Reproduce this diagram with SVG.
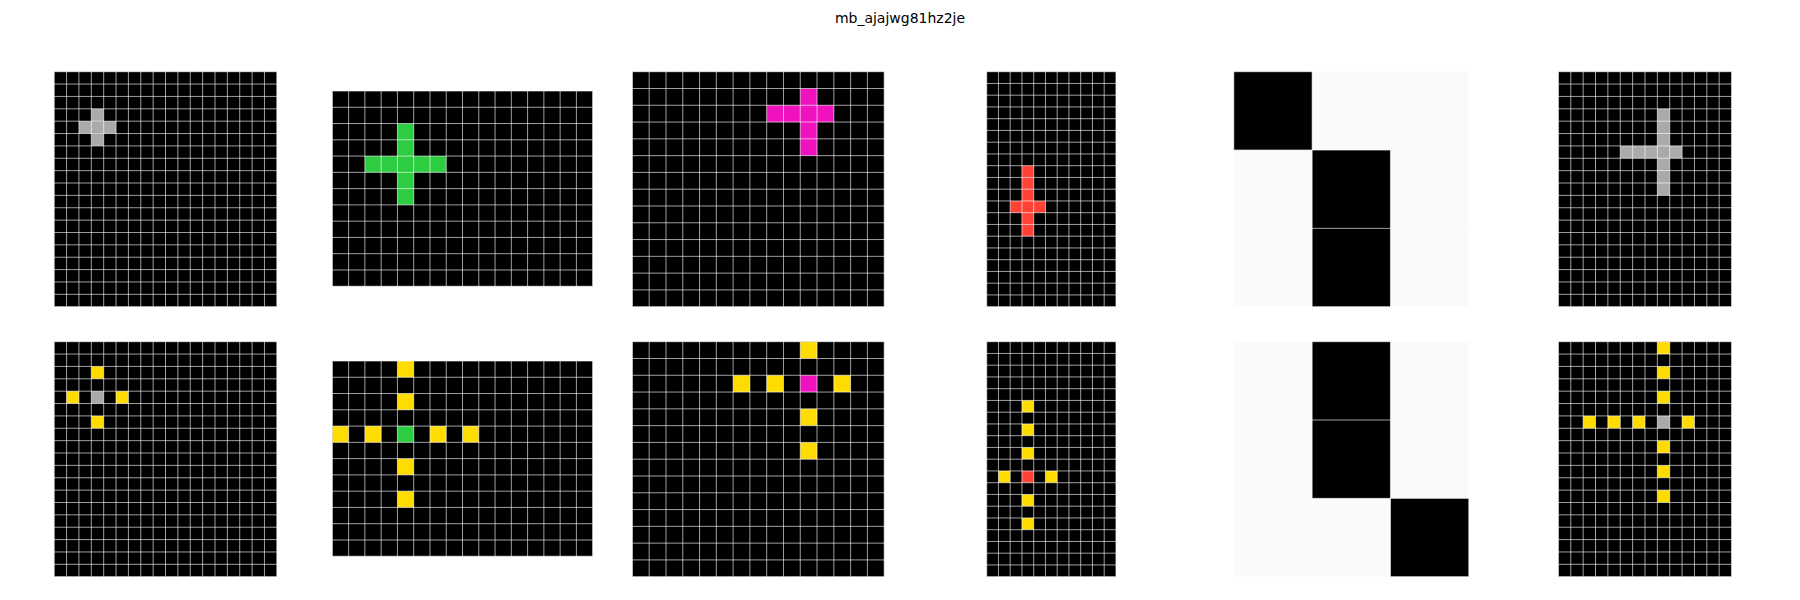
<svg xmlns="http://www.w3.org/2000/svg" width="1800" height="600" viewBox="0 0 1800 600">
<style>
.bg{fill:#000000}
.wbg{fill:#fafafa}
.k{fill:#000000}
.g{fill:#aaaaaa}
.gr{fill:#2ecc40}
.m{fill:#f012be}
.r{fill:#ff4136}
.y{fill:#ffdc00}
.grid{fill:none;stroke:#ffffff;stroke-opacity:0.62;stroke-width:1;vector-effect:non-scaling-stroke}
.title{font-family:"DejaVu Sans",sans-serif;font-size:14px;fill:#000000}
</style>
<rect width="1800" height="600" fill="#ffffff"/>
<text class="title" x="900" y="23" text-anchor="middle">mb_ajajwg81hz2je</text>

<!-- Panel 1 top: 18x19 -->
<g id="p1_top" transform="translate(54.2,71.7) scale(12.368)">
<rect class="bg" width="18" height="19"/>
<rect class="g" x="3" y="3" width="1" height="1"/><rect class="g" x="2" y="4" width="3" height="1"/><rect class="g" x="3" y="5" width="1" height="1"/>
<path class="grid" d="M0 0v19m1-19v19m1-19v19m1-19v19m1-19v19m1-19v19m1-19v19m1-19v19m1-19v19m1-19v19m1-19v19m1-19v19m1-19v19m1-19v19m1-19v19m1-19v19m1-19v19m1-19v19m1-19v19M0 0h18m-18 1h18m-18 1h18m-18 1h18m-18 1h18m-18 1h18m-18 1h18m-18 1h18m-18 1h18m-18 1h18m-18 1h18m-18 1h18m-18 1h18m-18 1h18m-18 1h18m-18 1h18m-18 1h18m-18 1h18m-18 1h18m-18 1h18"/>
</g>
<g id="p1_bottom" transform="translate(54.2,341.7) scale(12.368)">
<rect class="bg" width="18" height="19"/>
<rect class="g" x="3" y="4" width="1" height="1"/>
<rect class="y" x="3" y="2" width="1" height="1"/><rect class="y" x="1" y="4" width="1" height="1"/><rect class="y" x="5" y="4" width="1" height="1"/><rect class="y" x="3" y="6" width="1" height="1"/>
<path class="grid" d="M0 0v19m1-19v19m1-19v19m1-19v19m1-19v19m1-19v19m1-19v19m1-19v19m1-19v19m1-19v19m1-19v19m1-19v19m1-19v19m1-19v19m1-19v19m1-19v19m1-19v19m1-19v19m1-19v19M0 0h18m-18 1h18m-18 1h18m-18 1h18m-18 1h18m-18 1h18m-18 1h18m-18 1h18m-18 1h18m-18 1h18m-18 1h18m-18 1h18m-18 1h18m-18 1h18m-18 1h18m-18 1h18m-18 1h18m-18 1h18m-18 1h18m-18 1h18"/>
</g>

<!-- Panel 2: 16x12 -->
<g id="p2_top" transform="translate(332.35,91) scale(16.27)">
<rect class="bg" width="16" height="12"/>
<rect class="gr" x="4" y="2" width="1" height="5"/><rect class="gr" x="2" y="4" width="5" height="1"/>
<path class="grid" d="M0 0v12m1-12v12m1-12v12m1-12v12m1-12v12m1-12v12m1-12v12m1-12v12m1-12v12m1-12v12m1-12v12m1-12v12m1-12v12m1-12v12m1-12v12m1-12v12m1-12v12M0 0h16m-16 1h16m-16 1h16m-16 1h16m-16 1h16m-16 1h16m-16 1h16m-16 1h16m-16 1h16m-16 1h16m-16 1h16m-16 1h16m-16 1h16"/>
</g>
<g id="p2_bottom" transform="translate(332.35,361) scale(16.27)">
<rect class="bg" width="16" height="12"/>
<rect class="gr" x="4" y="4" width="1" height="1"/>
<rect class="y" x="4" y="0" width="1" height="1"/><rect class="y" x="4" y="2" width="1" height="1"/><rect class="y" x="4" y="6" width="1" height="1"/><rect class="y" x="4" y="8" width="1" height="1"/>
<rect class="y" x="0" y="4" width="1" height="1"/><rect class="y" x="2" y="4" width="1" height="1"/><rect class="y" x="6" y="4" width="1" height="1"/><rect class="y" x="8" y="4" width="1" height="1"/>
<path class="grid" d="M0 0v12m1-12v12m1-12v12m1-12v12m1-12v12m1-12v12m1-12v12m1-12v12m1-12v12m1-12v12m1-12v12m1-12v12m1-12v12m1-12v12m1-12v12m1-12v12m1-12v12M0 0h16m-16 1h16m-16 1h16m-16 1h16m-16 1h16m-16 1h16m-16 1h16m-16 1h16m-16 1h16m-16 1h16m-16 1h16m-16 1h16m-16 1h16"/>
</g>

<!-- Panel 3: 15x14 -->
<g id="p3_top" transform="translate(632.4,71.7) scale(16.786)">
<rect class="bg" width="15" height="14"/>
<rect class="m" x="10" y="1" width="1" height="4"/><rect class="m" x="8" y="2" width="4" height="1"/>
<path class="grid" d="M0 0v14m1-14v14m1-14v14m1-14v14m1-14v14m1-14v14m1-14v14m1-14v14m1-14v14m1-14v14m1-14v14m1-14v14m1-14v14m1-14v14m1-14v14m1-14v14M0 0h15m-15 1h15m-15 1h15m-15 1h15m-15 1h15m-15 1h15m-15 1h15m-15 1h15m-15 1h15m-15 1h15m-15 1h15m-15 1h15m-15 1h15m-15 1h15m-15 1h15"/>
</g>
<g id="p3_bottom" transform="translate(632.4,341.7) scale(16.786)">
<rect class="bg" width="15" height="14"/>
<rect class="m" x="10" y="2" width="1" height="1"/>
<rect class="y" x="10" y="0" width="1" height="1"/><rect class="y" x="10" y="4" width="1" height="1"/><rect class="y" x="10" y="6" width="1" height="1"/>
<rect class="y" x="6" y="2" width="1" height="1"/><rect class="y" x="8" y="2" width="1" height="1"/><rect class="y" x="12" y="2" width="1" height="1"/>
<path class="grid" d="M0 0v14m1-14v14m1-14v14m1-14v14m1-14v14m1-14v14m1-14v14m1-14v14m1-14v14m1-14v14m1-14v14m1-14v14m1-14v14m1-14v14m1-14v14m1-14v14M0 0h15m-15 1h15m-15 1h15m-15 1h15m-15 1h15m-15 1h15m-15 1h15m-15 1h15m-15 1h15m-15 1h15m-15 1h15m-15 1h15m-15 1h15m-15 1h15m-15 1h15"/>
</g>

<!-- Panel 4: 11x20 -->
<g id="p4_top" transform="translate(986.7,71.7) scale(11.75)">
<rect class="bg" width="11" height="20"/>
<rect class="r" x="3" y="8" width="1" height="6"/><rect class="r" x="2" y="11" width="3" height="1"/>
<path class="grid" d="M0 0v20m1-20v20m1-20v20m1-20v20m1-20v20m1-20v20m1-20v20m1-20v20m1-20v20m1-20v20m1-20v20m1-20v20M0 0h11m-11 1h11m-11 1h11m-11 1h11m-11 1h11m-11 1h11m-11 1h11m-11 1h11m-11 1h11m-11 1h11m-11 1h11m-11 1h11m-11 1h11m-11 1h11m-11 1h11m-11 1h11m-11 1h11m-11 1h11m-11 1h11m-11 1h11m-11 1h11"/>
</g>
<g id="p4_bottom" transform="translate(986.7,341.7) scale(11.75)">
<rect class="bg" width="11" height="20"/>
<rect class="r" x="3" y="11" width="1" height="1"/>
<rect class="y" x="3" y="5" width="1" height="1"/><rect class="y" x="3" y="7" width="1" height="1"/><rect class="y" x="3" y="9" width="1" height="1"/><rect class="y" x="3" y="13" width="1" height="1"/><rect class="y" x="3" y="15" width="1" height="1"/>
<rect class="y" x="1" y="11" width="1" height="1"/><rect class="y" x="5" y="11" width="1" height="1"/>
<path class="grid" d="M0 0v20m1-20v20m1-20v20m1-20v20m1-20v20m1-20v20m1-20v20m1-20v20m1-20v20m1-20v20m1-20v20m1-20v20M0 0h11m-11 1h11m-11 1h11m-11 1h11m-11 1h11m-11 1h11m-11 1h11m-11 1h11m-11 1h11m-11 1h11m-11 1h11m-11 1h11m-11 1h11m-11 1h11m-11 1h11m-11 1h11m-11 1h11m-11 1h11m-11 1h11m-11 1h11m-11 1h11"/>
</g>

<!-- Panel 5: 3x3 -->
<g id="p5_top" transform="translate(1233.8,71.7) scale(78.33)">
<rect class="wbg" width="3" height="3"/>
<rect class="k" x="0" y="0" width="1" height="1"/><rect class="k" x="1" y="1" width="1" height="2"/>
<path class="grid" d="M0 0v3m1-3v3m1-3v3m1-3v3M0 0h3m-3 1h3m-3 1h3m-3 1h3"/>
</g>
<g id="p5_bottom" transform="translate(1233.8,341.7) scale(78.33)">
<rect class="wbg" width="3" height="3"/>
<rect class="k" x="1" y="0" width="1" height="2"/><rect class="k" x="2" y="2" width="1" height="1"/>
<path class="grid" d="M0 0v3m1-3v3m1-3v3m1-3v3M0 0h3m-3 1h3m-3 1h3m-3 1h3"/>
</g>

<!-- Panel 6: 14x19 -->
<g id="p6_top" transform="translate(1558.4,71.7) scale(12.368)">
<rect class="bg" width="14" height="19"/>
<rect class="g" x="8" y="3" width="1" height="7"/><rect class="g" x="5" y="6" width="5" height="1"/>
<path class="grid" d="M0 0v19m1-19v19m1-19v19m1-19v19m1-19v19m1-19v19m1-19v19m1-19v19m1-19v19m1-19v19m1-19v19m1-19v19m1-19v19m1-19v19m1-19v19M0 0h14m-14 1h14m-14 1h14m-14 1h14m-14 1h14m-14 1h14m-14 1h14m-14 1h14m-14 1h14m-14 1h14m-14 1h14m-14 1h14m-14 1h14m-14 1h14m-14 1h14m-14 1h14m-14 1h14m-14 1h14m-14 1h14m-14 1h14"/>
</g>
<g id="p6_bottom" transform="translate(1558.4,341.7) scale(12.368)">
<rect class="bg" width="14" height="19"/>
<rect class="g" x="8" y="6" width="1" height="1"/>
<rect class="y" x="8" y="0" width="1" height="1"/><rect class="y" x="8" y="2" width="1" height="1"/><rect class="y" x="8" y="4" width="1" height="1"/><rect class="y" x="8" y="8" width="1" height="1"/><rect class="y" x="8" y="10" width="1" height="1"/><rect class="y" x="8" y="12" width="1" height="1"/>
<rect class="y" x="2" y="6" width="1" height="1"/><rect class="y" x="4" y="6" width="1" height="1"/><rect class="y" x="6" y="6" width="1" height="1"/><rect class="y" x="10" y="6" width="1" height="1"/>
<path class="grid" d="M0 0v19m1-19v19m1-19v19m1-19v19m1-19v19m1-19v19m1-19v19m1-19v19m1-19v19m1-19v19m1-19v19m1-19v19m1-19v19m1-19v19m1-19v19M0 0h14m-14 1h14m-14 1h14m-14 1h14m-14 1h14m-14 1h14m-14 1h14m-14 1h14m-14 1h14m-14 1h14m-14 1h14m-14 1h14m-14 1h14m-14 1h14m-14 1h14m-14 1h14m-14 1h14m-14 1h14m-14 1h14m-14 1h14"/>
</g>
</svg>
